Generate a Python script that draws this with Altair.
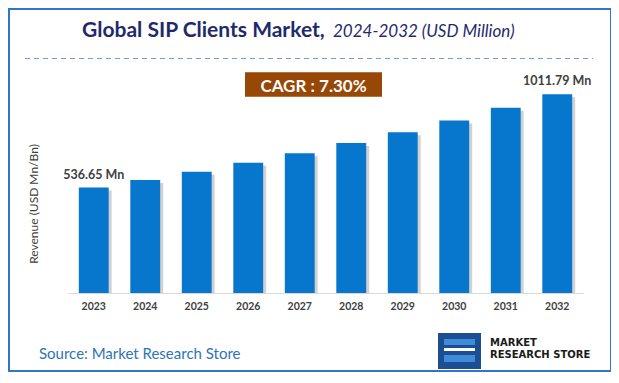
import altair as alt
import pandas as pd

years = ["2023", "2024", "2025", "2026", "2027", "2028", "2029", "2030", "2031", "2032"]
revenue = [536.65, 575.8, 617.9, 663.0, 711.4, 763.3, 819.0, 878.8, 943.0, 1011.79]
label_text = ["536.65 Mn", "", "", "", "", "", "", "", "", "1011.79 Mn"]

title_bold = "Global SIP Clients Market,"
title_italic = "2024-2032 (USD Million)"
cagr_text = "CAGR : 7.30%"
y_title = "Revenue (USD Mn/Bn)"
source_text = "Source: Market Research Store"
logo_line1 = "MARKET"
logo_line2 = "RESEARCH STORE"

df = pd.DataFrame({"year": years, "value": revenue, "label": label_text, "zero": [0] * len(years)})
one = pd.DataFrame({"k": [0]})

FONT = "Lato"
BLUE = "#0777CD"
NAVY = "#1F2A6C"
GRAY = "#404040"

x_enc = alt.X("year:N", sort=years,
              scale=alt.Scale(paddingInner=0.42, paddingOuter=0.21),
              axis=alt.Axis(title=None, labelAngle=0, ticks=False, labelPadding=8,
                            labelFont=FONT, labelFontWeight="bold", labelFontSize=10.5,
                            labelColor=GRAY, domainColor="#D9D9D9", domainWidth=1))
y_scale = alt.Scale(domain=[0, 1100])

shadow = alt.Chart(df).mark_bar(color="#9A9A9A", opacity=0.45, xOffset=3, yOffset=3).encode(
    x=x_enc,
    y=alt.Y("value:Q", scale=y_scale, axis=None),
    y2=alt.Y2("zero:Q"),
)
bars = alt.Chart(df).mark_bar(color=BLUE).encode(
    x=x_enc,
    y=alt.Y("value:Q", scale=y_scale, axis=None),
)
labels = alt.Chart(df).mark_text(dy=-9, baseline="alphabetic", font=FONT, fontWeight="bold",
                                 fontSize=12.5, color=GRAY).encode(
    x=x_enc,
    y=alt.Y("value:Q", scale=y_scale, axis=None),
    text="label:N",
)


def txt(text, x, y, size, weight="normal", style="normal", color=GRAY, align="left", angle=0, font=FONT):
    kw = dict(text=text, font=font, fontSize=size, fontWeight=weight, fontStyle=style,
              color=color, align=align, baseline="alphabetic")
    if angle:
        kw["angle"] = angle
        kw["baseline"] = "middle"
    return alt.Chart(one).mark_text(**kw).encode(x=alt.value(x), y=alt.value(y))


def box(x, x2, y, y2, color, **kw):
    return alt.Chart(one).mark_rect(color=color, **kw).encode(
        x=alt.value(x), x2=alt.value(x2), y=alt.value(y), y2=alt.value(y2))


frame = alt.Chart(one).mark_rect(fillOpacity=0, stroke="#2F76C6", strokeWidth=2).encode(
    x=alt.value(-59), x2=alt.value(543), y=alt.value(-68), y2=alt.value(294))
dash = alt.Chart(one).mark_rule(color="#6F9BD8", strokeDash=[5, 4], strokeWidth=1.2).encode(
    x=alt.value(-43), x2=alt.value(525), y=alt.value(-18.5))

cagr_box = box(177, 314, -4.7, 19.7, "#974706")

layers = [
    frame,
    dash,
    txt(title_bold, 14, -40.3, 21, weight="bold", color=NAVY),
    txt(title_italic, 265, -40.3, 17, style="italic", color=NAVY),
    cagr_box,
    txt(cagr_text, 245.5, 14.7, 17, weight="bold", color="white", align="center"),
    shadow,
    bars,
    labels,
    txt(y_title, -34.5, 127, 12, color=GRAY, align="center", angle=270),
    txt(source_text, -29, 282.3, 15, color="#2E75B6"),
    # logo
    box(370, 413, 256, 292, "#1B4F91"),
    box(376, 407, 262, 268, "#3F8BD9"),
    box(376, 407, 271, 274, "white"),
    box(376, 407, 278, 285, "#3F8BD9"),
    txt(logo_line1, 422, 269, 10, weight="bold", color="#1A1A1A", font="DejaVu Sans"),
    txt(logo_line2, 422, 280.5, 10, weight="bold", color="#1A1A1A", font="DejaVu Sans"),
]

chart = alt.layer(*layers).properties(
    width=515, height=216,
    autosize=alt.AutoSizeParams(type="none"),
    padding={"left": 60, "top": 69, "right": 28, "bottom": 82},
).configure(
    background="white",
    view=alt.ViewConfig(strokeWidth=0, stroke="transparent"),
    axisY=alt.AxisConfig(domain=False, grid=False, ticks=False, labels=False),
)

chart.save("out.html", embed_options={"renderer": "svg", "actions": False})
